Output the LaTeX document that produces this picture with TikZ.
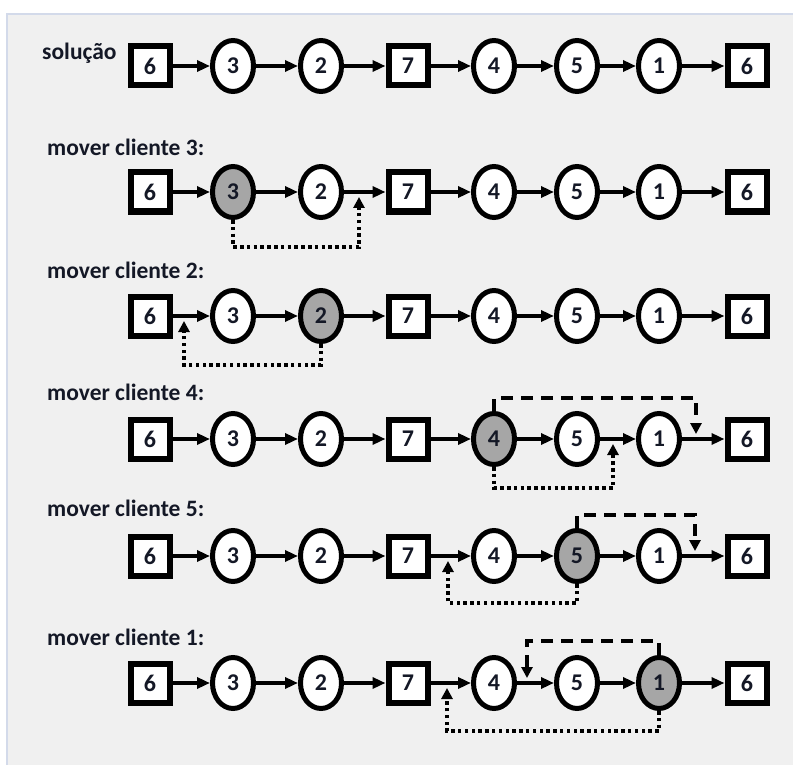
\documentclass[tikz,border=0pt]{standalone}
\usepackage{fontspec}
\setmainfont{Carlito}
\usetikzlibrary{shapes.geometric,arrows.meta}
\definecolor{bgc}{HTML}{F0F0F0}
\definecolor{bordc}{HTML}{D3DAEA}
\definecolor{hl}{HTML}{A6A6A6}
\definecolor{txt}{HTML}{141826}
\tikzset{
  box/.style={rectangle, draw=black, line width=6pt, minimum width=39pt, minimum height=39pt, inner sep=0pt, text=txt, font=\fontsize{24}{24}\selectfont\bfseries},
  ell/.style={ellipse, draw=black, line width=5pt, minimum width=41pt, minimum height=51pt, inner sep=0pt, text=txt, font=\fontsize{24}{24}\selectfont\bfseries},
  lbl/.style={anchor=base west, inner sep=0pt, text=txt, font=\fontsize{23.5}{23.5}\selectfont\bfseries},
  conn/.style={line width=3.6pt, -{Triangle[length=13pt,width=11pt]}},
  dotline/.style={line width=3.6pt, dash pattern=on 3.5pt off 3.3pt, -{Triangle[length=11pt,width=11pt]}},
  dashline/.style={line width=3.6pt, dash pattern=on 12pt off 8pt, -{Triangle[length=11pt,width=11pt]}}
}
\begin{document}
\begin{tikzpicture}[x=1pt,y=-1pt]
\useasboundingbox (0,0) rectangle (793,765);
\fill[white] (0,0) rectangle (793,765);
\fill[bgc] (7,14) rectangle (793,765);
\draw[bordc, line width=1.5pt] (7,765) -- (7,14) -- (793,14);

\node[lbl] (L1) at (42,60) {solução};
\node[lbl] (L2) at (47,156) {mover cliente 3:};
\node[lbl] (L3) at (47,278) {mover cliente 2:};
\node[lbl] (L4) at (47,400) {mover cliente 4:};
\node[lbl] (L5) at (47,516) {mover cliente 5:};
\node[lbl] (L6) at (47,645) {mover cliente 1:};

\foreach \r/\y/\g in {1/66/0, 2/192/2, 3/316/3, 4/439/5, 5/556/6, 6/683/7} {
  \foreach \c/\x/\t/\s in {1/150/6/box, 2/233/3/ell, 3/321/2/ell, 4/408/7/box, 5/494/4/ell, 6/577/5/ell, 7/659/1/ell, 8/747/6/box} {
    \ifnum\c=\g \def\fc{hl}\else\def\fc{white}\fi
    \node[\s, fill=\fc] (n\r-\c) at (\x,\y) {\t};
  }
  \foreach \c [count=\d from 2] in {1,...,7}
    \draw[conn] (n\r-\c) -- (n\r-\d);
}

\coordinate (t2) at (359,197);
\coordinate (t3) at (184,321);
\coordinate (t4a) at (613,444);
\coordinate (t4b) at (696,434);
\coordinate (t5a) at (448,561);
\coordinate (t5b) at (695,551);
\coordinate (t6a) at (447,688);
\coordinate (t6b) at (527,678);

\draw[dotline] (n2-2.south) -- ++(0,27) -| (t2);
\draw[dotline] (n3-3.south) -- ++(0,21) -| (t3);
\draw[dotline] (n4-5.south) -- ++(0,21) -| (t4a);
\draw[dashline] (n4-5.north) -- ++(0,-13) -| (t4b);
\draw[dotline] (n5-6.south) -- ++(0,19) -| (t5a);
\draw[dashline] (n5-6.north) -- ++(0,-13) -| (t5b);
\draw[dotline] (n6-7.south) -- ++(0,20) -| (t6a);
\draw[dashline] (n6-7.north) -- ++(0,-14) -| (t6b);
\end{tikzpicture}
\end{document}
